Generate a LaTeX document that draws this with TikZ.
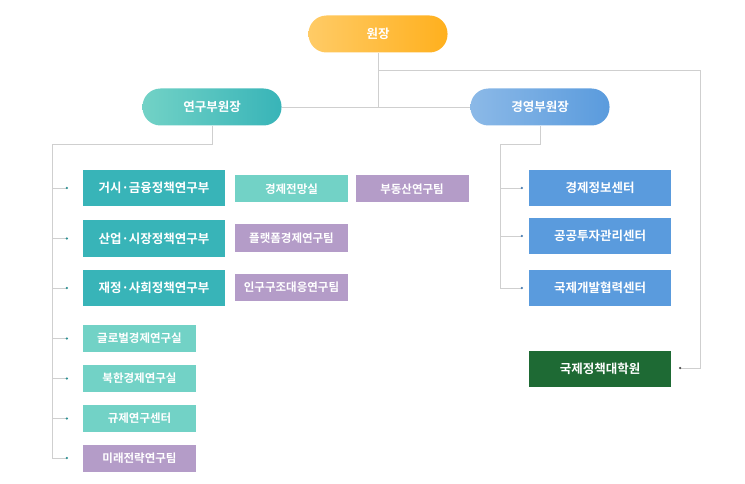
\documentclass[tikz,border=0pt]{standalone}
\usepackage{fontspec}
\newfontfamily\krfont{Noto Sans CJK KR}[BoldFont={* Bold}]
\usetikzlibrary{positioning}
\definecolor{lineg}{HTML}{CFCFCF}
\definecolor{teal1}{HTML}{38B4B8}
\definecolor{teal2}{HTML}{72D2C6}
\definecolor{purp}{HTML}{B49CC8}
\definecolor{blu}{HTML}{5A9BDD}
\definecolor{grn}{HTML}{1E6A34}
\definecolor{ora1}{HTML}{FFCB66}
\definecolor{ora2}{HTML}{FFB01E}
\tikzset{
  pill/.style={rounded corners=18pt, minimum width=139pt, minimum height=37pt, text=white, font=\krfont\bfseries\fontsize{12.5}{14}\selectfont},
  bigbox/.style={fill=#1, minimum width=142pt, minimum height=36pt, text=white, font=\krfont\bfseries\fontsize{12.5}{14}\selectfont},
  smallbox/.style={fill=#1, minimum width=113pt, minimum height=27pt, text=white, font=\krfont\bfseries\fontsize{11.5}{13}\selectfont},
  link/.style={draw=lineg, line width=0.8pt},
  dot/.style={circle, fill=teal1!80!black, inner sep=0pt, minimum size=2.5pt}
}
\begin{document}
\begin{tikzpicture}[x=1pt,y=-1pt]
  \useasboundingbox (0,0) rectangle (745,484);
  % coordinates for the tree lines
  \coordinate (c0) at (378,70);
  \coordinate (c1) at (700,70);
  \coordinate (c2) at (700,368);
  \coordinate (c3) at (680,368);
  \coordinate (l0) at (212,144);
  \coordinate (l1) at (52,144);
  \coordinate (l2) at (52,458);
  \coordinate (r0) at (540,144);
  \coordinate (r1) at (500,144);
  \coordinate (r2) at (500,288);
  % top
  \node [pill, left color=ora1, right color=ora2] (head) at (378,34) {원장};
  \node [pill, left color=teal2, right color=teal1] (vr) at (212,107) {연구부원장};
  \node [pill, left color=blu!70, right color=blu] (vm) at (540,107) {경영부원장};
  % research side
  \node [bigbox=teal1] (b1) at (154,188) {거시·금융정책연구부};
  \node [bigbox=teal1] (b2) at (154,238.5) {산업·시장정책연구부};
  \node [bigbox=teal1] (b3) at (154,288) {재정·사회정책연구부};
  \node [smallbox=teal2] (m1) at (291.5,189) {경제전망실};
  \node [smallbox=purp] (m2) at (412,189) {부동산연구팀};
  \node [smallbox=purp] (m3) at (291.5,238) {플랫폼경제연구팀};
  \node [smallbox=purp] (m4) at (291.5,287) {인구구조대응연구팀};
  \node [smallbox=teal2] (s1) at (139.5,338.5) {글로벌경제연구실};
  \node [smallbox=teal2] (s2) at (139.5,378.5) {북한경제연구실};
  \node [smallbox=teal2] (s3) at (139.5,418.5) {규제연구센터};
  \node [smallbox=purp] (s4) at (139.5,458) {미래전략연구팀};
  % management side
  \node [bigbox=blu] (e1) at (600,188) {경제정보센터};
  \node [bigbox=blu] (e2) at (600,236) {공공투자관리센터};
  \node [bigbox=blu] (e3) at (600,288) {국제개발협력센터};
  \node [bigbox=grn] (g1) at (600,369) {국제정책대학원};
  % lines
  \draw [link] (head.south) -- (head.south |- vr.east);
  \draw [link] (vr.east) -- (vm.west);
  \draw [link] (c0) -- (c1) -- (c2) -- (c3);
  \node [dot, fill=black!70] at (c3) {};
  \draw [link] (vr.south) -- (l0) -- (l1) -- (l2);
  \draw [link] (vm.south) -- (r0) -- (r1) -- (r2);
  \foreach \n in {b1,b2,b3,s1,s2,s3,s4} {
    \draw [link] (l1 |- \n.west) -- ([xshift=-16pt]\n.west);
    \node [dot] at ([xshift=-16pt]\n.west) {};
  }
  \foreach \n in {e1,e2,e3} {
    \draw [link] (r1 |- \n.west) -- ([xshift=-7pt]\n.west);
    \node [dot, fill=blu!80!black] at ([xshift=-7pt]\n.west) {};
  }
\end{tikzpicture}
\end{document}
